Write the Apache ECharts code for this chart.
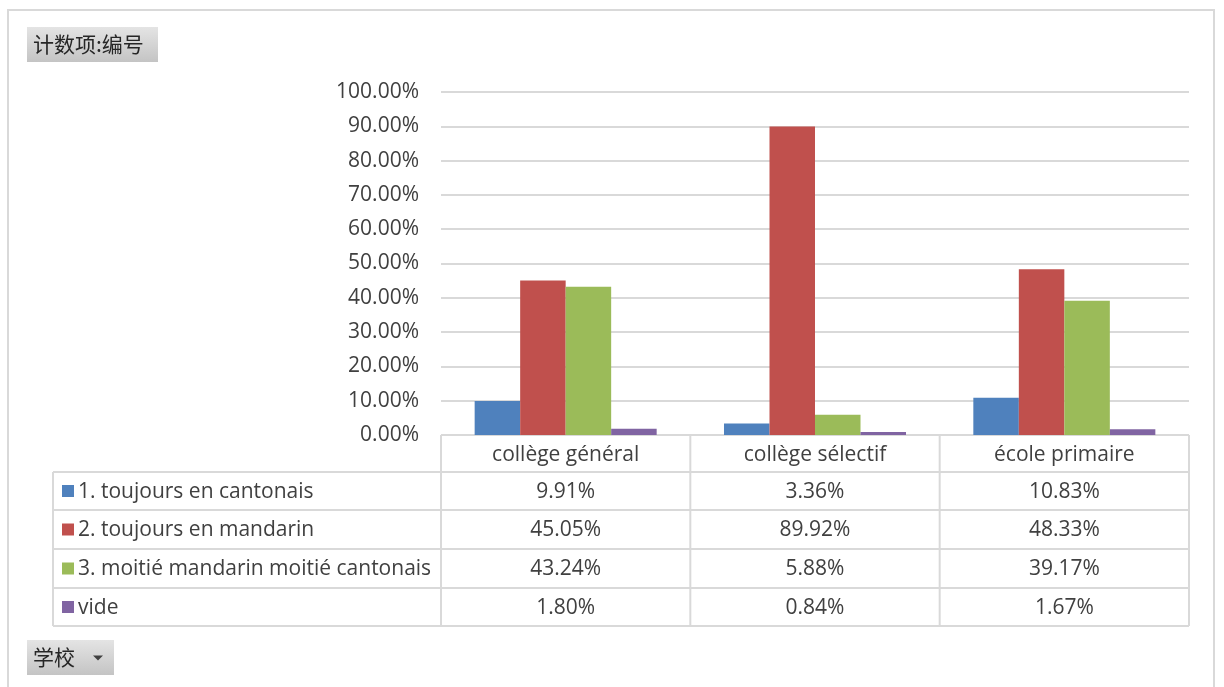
<!DOCTYPE html>
<html>
<head>
<meta charset="utf-8">
<script src="https://cdn.jsdelivr.net/npm/echarts@6/dist/echarts.min.js"></script>
<style>
  html, body { margin: 0; padding: 0; background: #fff; }
  #chart { width: 1224px; height: 687px; }
</style>
</head>
<body>
<div id="chart"></div>
<script>
// 学校
const schools = ['collège général', 'collège sélectif', 'école primaire'];
// 系列名
const seriesNames = [
  '1. toujours en cantonais',
  '2. toujours en mandarin',
  '3. moitié mandarin moitié cantonais',
  'vide'
];
// 百分比数据 (%)
const cantonais = [9.91, 3.36, 10.83];
const mandarin = [45.05, 89.92, 48.33];
const moitie = [43.24, 5.88, 39.17];
const vide = [1.80, 0.84, 1.67];
const yTicks = [0, 10, 20, 30, 40, 50, 60, 70, 80, 90, 100];

const seriesData = [cantonais, mandarin, moitie, vide];
const colors = ['#4F81BD', '#C0504D', '#9BBB59', '#8064A2'];

const FONT = '"Open Sans", "Noto Sans", sans-serif';
const FS = 21;
const LINE = '#d9d9d9';

// 布局
const gridLeft = 441, gridRight = 1189, gridTop = 92, gridBottom = 435;
const tableLeft = 53;
const rowEdges = [435, 472, 510, 549, 588, 626];

const chart = echarts.init(document.getElementById('chart'));

chart.setOption({
  animation: false,
  textStyle: { fontFamily: FONT },
  grid: {
    left: gridLeft,
    right: 1224 - gridRight,
    top: gridTop,
    bottom: 687 - gridBottom
  },
  xAxis: {
    type: 'category',
    data: schools,
    axisLine: { show: false },
    axisTick: { show: false },
    axisLabel: {
      fontFamily: FONT,
      fontSize: FS,
      color: '#404040',
      margin: 20,
      verticalAlign: 'middle'
    }
  },
  yAxis: {
    type: 'value',
    min: yTicks[0],
    max: yTicks[yTicks.length - 1],
    interval: yTicks[1] - yTicks[0],
    axisLine: { show: false },
    axisTick: { show: false },
    axisLabel: {
      fontFamily: FONT,
      fontSize: FS,
      color: '#404040',
      margin: 22,
      formatter: v => v.toFixed(2) + '%'
    },
    splitLine: { lineStyle: { color: LINE, width: 2 } }
  },
  series: seriesNames.map((name, i) => ({
    name: name,
    type: 'bar',
    data: seriesData[i],
    barGap: '0%',
    barCategoryGap: '27%',
    itemStyle: { color: colors[i] }
  }))
});

// 数据表 + 透视按钮
function buildGraphics() {
  const g = [];
  const colEdges = [gridLeft];
  for (let i = 0; i < schools.length; i++) {
    colEdges.push(gridLeft + (gridRight - gridLeft) * (i + 1) / schools.length);
  }
  const line = (x1, y1, x2, y2) => g.push({
    type: 'line', shape: { x1, y1, x2, y2 },
    style: { stroke: LINE, lineWidth: 2 }, silent: true
  });

  // 外框
  g.push({
    type: 'rect', shape: { x: 8, y: 10, width: 1206, height: 700 },
    style: { fill: 'none', stroke: LINE, lineWidth: 2 }, silent: true
  });

  // 表头竖线
  colEdges.forEach(x => line(x, rowEdges[0], x, rowEdges[1]));
  line(gridLeft, rowEdges[0], gridRight, rowEdges[0]);
  // 表格横线
  for (let r = 1; r < rowEdges.length; r++) {
    line(tableLeft, rowEdges[r], gridRight, rowEdges[r]);
  }
  // 表格竖线
  [tableLeft].concat(colEdges).forEach(x => line(x, rowEdges[1], x, rowEdges[rowEdges.length - 1]));

  // 行内容
  seriesNames.forEach((name, r) => {
    const yMid = (rowEdges[r + 1] + rowEdges[r + 2]) / 2 + 1;
    g.push({
      type: 'rect', shape: { x: 62, y: yMid - 7, width: 12, height: 12 },
      style: { fill: colors[r] }, silent: true
    });
    g.push({
      type: 'text', x: 78, y: yMid,
      style: { text: name, font: FS + 'px ' + FONT, fill: '#404040', verticalAlign: 'middle' },
      silent: true
    });
    seriesData[r].forEach((v, c) => {
      g.push({
        type: 'text', x: (colEdges[c] + colEdges[c + 1]) / 2, y: yMid,
        style: {
          text: v.toFixed(2) + '%', font: FS + 'px ' + FONT, fill: '#404040',
          align: 'center', verticalAlign: 'middle'
        },
        silent: true
      });
    });
  });

  // 透视字段按钮
  const button = (x, y, w, h, label, arrow) => {
    g.push({
      type: 'rect', shape: { x, y, width: w, height: h },
      style: {
        fill: new echarts.graphic.LinearGradient(0, 0, 0, 1, [
          { offset: 0, color: '#e4e4e4' },
          { offset: 1, color: '#c4c4c4' }
        ])
      },
      silent: true
    });
    g.push({
      type: 'text', x: x + 6, y: y + h / 2,
      style: {
        text: label, font: '21px "Noto Sans CJK SC", sans-serif',
        fill: '#262626', verticalAlign: 'middle'
      },
      silent: true
    });
    if (arrow) {
      g.push({
        type: 'polygon',
        shape: { points: [[x + w - 21, y + h / 2 - 2], [x + w - 11, y + h / 2 - 2], [x + w - 16, y + h / 2 + 3]] },
        style: { fill: '#404040' }, silent: true
      });
    }
  };
  button(27, 27, 131, 35, '计数项:编号', false);
  button(27, 640, 87, 35, '学校', true);

  return g;
}

chart.setOption({ graphic: buildGraphics() });
</script>
</body>
</html>
